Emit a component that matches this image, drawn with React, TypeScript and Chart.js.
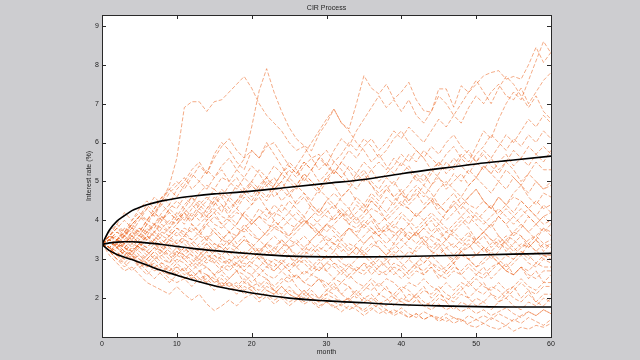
import React, { useEffect, useRef } from "react";
import { Chart, registerables } from "chart.js";

Chart.register(...registerables);

const chartTitle = "CIR Process";
const xAxisTitle = "month";
const yAxisTitle = "Interest rate (%)";
const xTicks = [0, 10, 20, 30, 40, 50, 60];
const yTicks = [2, 3, 4, 5, 6, 7, 8, 9];

// percentile curves (black)
const bandMonths = [0, 1, 2, 3, 4, 5, 6, 8, 10, 12, 15, 18, 20, 25, 30, 35, 40, 45, 50, 55, 60];
const upperBand = [3.38, 3.75, 3.98, 4.12, 4.25, 4.33, 4.4, 4.5, 4.57, 4.62, 4.68, 4.72, 4.75, 4.85, 4.95, 5.05, 5.2, 5.33, 5.45, 5.55, 5.65];
const medianLine = [3.38, 3.42, 3.44, 3.45, 3.45, 3.44, 3.42, 3.38, 3.33, 3.28, 3.22, 3.17, 3.14, 3.08, 3.06, 3.06, 3.07, 3.09, 3.11, 3.13, 3.15];
const lowerBand = [3.38, 3.22, 3.12, 3.05, 2.99, 2.92, 2.85, 2.71, 2.59, 2.47, 2.32, 2.2, 2.13, 2.0, 1.93, 1.88, 1.83, 1.8, 1.78, 1.77, 1.77];

// simulated paths, monthly values (month 0..60)
const p01 = [3.4,3.6,3.5,3.8,3.7,4.0,4.3,4.1,4.5,4.9,5.6, 6.9,7.05,7.05,6.8,7.05,7.1,7.3,7.5,7.7,7.4, 7.0,6.7,6.5,6.3,6.0,5.8,5.9,5.6,5.7,5.4, 5.2,5.5,5.3,5.0,5.2,4.9,4.7,4.9,4.6,4.8, 4.5,4.7,4.4,4.6,4.3,4.5,4.7,4.4,4.6,4.8, 4.5,4.3,4.6,4.4,4.2,4.5,4.3,4.1,4.4,4.2];
const p02 = [3.4,3.5,3.3,3.6,3.8,3.7,4.0,3.9,4.2,4.4,4.3, 4.6,4.4,4.7,4.9,4.8,5.1,5.0,5.3,5.58,6.4, 7.33,7.9,7.29,6.8,6.39,6.09,5.92,5.79,6.22,6.5, 6.86,6.5,6.35,7.0,7.72,7.4,7.25,7.5,7.12,7.3, 7.55,7.1,6.82,6.78,7.38,7.38,6.91,7.46,7.29,7.5, 7.72,7.8,7.85,7.63,7.7,7.63,8.0,8.45,8.06,8.32];
const p03 = [3.4,3.3,3.5,3.4,3.7,3.6,3.9,3.8,4.1,3.9,4.2, 4.0,4.3,4.5,4.3,4.6,4.4,4.2,4.5,4.7,4.5, 4.8,4.6,4.9,5.2,5.0,4.8,5.1,4.9,4.7,5.0, 5.3,5.1,4.9,5.2,5.5,5.3,5.0,5.2,5.4,5.7, 5.5,5.8,5.6,5.3,5.5,5.2,5.4,5.7,5.5,5.9, 6.3,6.1,6.6,7.0,7.3,7.1,7.6,8.1,8.6,8.3];
const p04 = [3.4,3.2,3.4,3.3,3.1,3.4,3.6,3.5,3.8,3.7,3.9, 4.2,4.0,4.3,4.1,4.4,4.6,4.3,4.5,4.8,4.6, 4.9,5.1,4.8,5.0,5.3,5.1,5.4,5.6,5.3,5.5, 5.2,5.5,5.8,5.6,5.9,6.1,5.8,6.0,6.3,6.1, 6.4,6.2,6.0,6.3,6.6,6.4,6.7,6.5,6.9,7.2, 7.0,7.3,7.5,7.2,7.1,7.4,7.0,7.3,7.6,7.8];
const p05 = [3.4,3.6,3.9,3.7,4.0,4.2,4.0,4.3,4.6,4.4,4.8, 5.0,5.3,5.5,5.2,5.7,6.0,5.8,5.5,5.3,5.8, 5.6,6.0,5.7,5.4,5.1,5.4,5.7,6.0,6.3,6.6, 6.86,6.5,6.3,6.0,5.8,5.5,5.7,5.4,5.2,5.5, 5.3,5.0,5.2,4.9,5.2,5.5,5.3,5.6,5.8,5.5, 5.3,5.6,5.9,6.2,6.0,6.3,6.6,6.4,6.7,6.5];
const p06 = [3.4,3.3,3.1,3.4,3.6,3.4,3.7,3.9,3.6,3.8,4.1, 3.9,4.2,4.0,4.3,4.5,4.2,4.6,4.9,4.7,5.0, 4.8,5.1,5.4,5.2,5.5,5.3,5.0,5.3,5.6,5.4, 5.8,6.1,5.9,6.3,6.6,6.9,7.2,6.9,7.1,6.8, 7.1,6.7,6.5,6.8,7.2,7.0,6.7,7.0,7.3,7.6, 7.3,7.0,7.4,7.7,7.5,7.2,6.9,7.2,6.8,6.6];
const p07 = [3.4,3.5,3.7,3.6,3.9,4.1,3.9,4.2,4.0,4.3,4.5, 4.3,4.6,4.4,4.2,4.5,4.8,4.6,4.4,4.7,4.9, 4.7,4.5,4.8,5.0,4.7,4.9,5.2,5.0,4.8,5.1, 4.9,4.6,4.8,5.1,5.3,5.0,4.8,5.1,4.9,5.2, 5.4,5.1,4.9,5.2,5.5,5.3,5.6,5.4,5.2,5.5, 5.7,5.4,5.2,5.5,5.3,5.0,5.2,5.5,5.3,5.3];
const p08 = [3.4,3.3,3.5,3.7,3.5,3.8,3.6,3.9,4.1,3.8,4.0, 4.2,3.9,3.7,4.0,4.2,4.4,4.1,3.9,4.2,4.4, 4.6,4.3,4.1,4.4,4.2,4.5,4.7,4.4,4.2,4.5, 4.3,4.6,4.8,4.5,4.3,4.6,4.4,4.2,4.5,4.7, 4.4,4.6,4.9,4.7,4.4,4.2,4.5,4.3,4.6,4.8, 4.5,4.3,4.6,4.4,4.7,4.9,4.6,4.4,4.7,4.6];
const p09 = [3.4,3.6,3.8,4.0,3.8,4.1,4.3,4.6,4.4,4.7,4.9, 5.1,4.8,5.0,5.3,5.1,5.4,5.6,5.3,5.1,5.4, 5.2,4.9,5.1,4.8,4.6,4.9,4.7,4.5,4.8,4.6, 4.4,4.1,4.3,4.0,4.2,4.5,4.3,4.0,3.8,4.1, 3.9,4.2,4.0,3.7,3.9,4.2,4.4,4.1,3.9,4.2, 4.0,3.8,4.1,3.9,3.6,3.8,4.1,3.9,3.7,3.9];
const p10 = [3.4,3.2,3.4,3.6,3.5,3.3,3.6,3.4,3.2,3.5,3.7, 3.5,3.3,3.1,3.4,3.2,3.5,3.7,3.4,3.6,3.3, 3.1,3.4,3.2,3.5,3.3,3.0,3.2,3.5,3.7,3.4, 3.2,3.5,3.3,3.1,3.4,3.6,3.3,3.1,3.4,3.2, 3.0,3.3,3.5,3.2,3.4,3.1,2.9,3.2,3.4,3.1, 3.3,3.0,3.2,3.5,3.3,3.1,3.4,3.2,3.0,3.2];
const p11 = [3.4,3.2,3.0,3.2,3.1,2.9,3.1,3.3,3.1,2.9,3.2, 3.0,2.8,3.0,3.2,2.9,2.7,2.9,3.1,2.8,3.0, 3.2,2.9,2.7,2.9,3.1,2.8,2.6,2.8,3.0,2.7, 2.9,2.7,2.5,2.7,2.9,2.6,2.8,3.0,2.7,2.5, 2.7,2.9,2.6,2.8,2.5,2.7,2.9,2.6,2.4,2.6, 2.8,2.5,2.7,2.9,2.6,2.8,2.5,2.7,2.4,2.6];
const p12 = [3.4,3.3,3.1,2.9,3.1,2.8,2.6,2.8,2.6,2.4,2.6, 2.8,2.5,2.7,2.4,2.6,2.3,2.5,2.7,2.4,2.6, 2.3,2.5,2.2,2.4,2.6,2.3,2.1,2.3,2.5,2.2, 2.4,2.1,2.3,2.0,2.2,2.4,2.1,2.3,2.0,2.2, 1.9,2.1,2.3,2.0,2.2,1.9,2.1,2.3,2.0,2.2, 2.4,2.1,1.9,2.1,2.3,2.0,2.2,1.9,2.1,2.1];
const p13 = [3.4,3.1,2.9,2.7,2.8,2.6,2.4,2.3,2.2,2.1,2.3, 2.1,1.95,2.1,1.85,1.68,1.8,1.95,1.8,2.0,2.1, 1.9,2.05,1.85,2.0,1.8,1.95,2.1,1.9,1.75,1.9, 1.8,1.65,1.8,1.7,1.55,1.7,1.85,1.7,1.6,1.75, 1.6,1.5,1.65,1.55,1.45,1.6,1.5,1.4,1.55,1.45, 1.35,1.5,1.4,1.3,1.45,1.35,1.5,1.4,1.3,1.45];
const p14 = [3.4,3.2,3.3,3.1,3.0,3.1,2.9,2.8,2.9,2.7,2.8, 2.6,2.7,2.5,2.6,2.4,2.5,2.3,2.4,2.2,2.3, 2.4,2.2,2.1,2.3,2.1,2.0,2.2,2.0,1.9,2.0, 1.9,1.8,1.95,1.8,1.7,1.85,1.75,1.6,1.7,1.6, 1.5,1.6,1.45,1.55,1.4,1.5,1.35,1.45,1.3,1.25, 1.35,1.25,1.2,1.3,1.15,1.25,1.2,1.3,1.25,1.35];
const p15 = [3.4,3.3,3.2,3.0,3.2,3.0,2.8,3.0,2.8,2.7,2.9, 2.7,2.5,2.7,2.6,2.4,2.6,2.4,2.3,2.5,2.3, 2.2,2.4,2.2,2.1,2.3,2.1,2.0,2.2,2.0,2.1, 2.3,2.1,1.95,2.1,1.9,2.0,1.85,1.95,2.1,1.9, 1.8,1.95,1.8,1.7,1.85,1.7,1.8,1.65,1.75,1.6, 1.7,1.55,1.65,1.75,1.6,1.5,1.65,1.55,1.7,1.6];
const p16 = [3.4,3.5,3.3,3.5,3.7,3.5,3.8,3.6,3.4,3.6,3.8, 3.6,3.9,3.7,3.5,3.8,3.6,3.4,3.6,3.9,3.7, 3.5,3.7,4.0,3.8,3.6,3.9,4.1,3.8,3.6,3.9, 3.7,3.5,3.8,3.6,3.9,4.1,3.8,3.6,3.4,3.7, 3.9,3.6,3.8,4.0,3.7,3.5,3.8,4.0,3.8,3.5, 3.7,3.9,3.6,3.4,3.7,3.9,3.7,3.5,3.8,3.7];
const p17 = [3.4,3.5,3.4,3.2,3.4,3.3,3.1,3.3,3.2,3.0,3.2, 3.1,2.9,3.1,3.3,3.1,2.9,3.0,2.8,3.0,3.2, 3.0,2.8,3.0,2.9,2.7,2.9,3.1,2.9,2.7,2.9, 3.1,2.9,2.8,3.0,3.2,3.0,2.8,2.9,3.1,2.9, 2.7,2.9,3.1,2.9,2.7,2.8,3.0,3.2,3.0,2.8, 2.9,3.1,2.9,2.7,2.9,3.1,2.9,2.8,3.0,2.9];
const p18 = [3.4,3.6,3.8,3.7,3.9,4.1,4.0,4.2,4.4,4.2,4.0, 4.2,4.4,4.2,4.0,4.2,3.9,4.1,4.3,4.1,3.9, 4.1,4.3,4.0,3.8,4.0,4.2,4.0,3.8,4.0,4.2, 4.4,4.2,4.0,4.2,4.4,4.1,3.9,4.1,4.3,4.5, 4.3,4.1,4.3,4.5,4.2,4.0,4.2,4.4,4.2,4.0, 4.2,4.4,4.1,3.9,4.1,4.3,4.1,3.9,4.1,4.2];
const p19 = [3.4,3.3,3.5,3.4,3.2,3.4,3.3,3.5,3.3,3.1,3.3, 3.2,3.4,3.2,3.0,3.2,3.4,3.2,3.0,3.2,3.1, 3.3,3.1,3.3,3.5,3.3,3.1,3.3,3.2,3.4,3.6, 3.4,3.2,3.4,3.3,3.1,3.3,3.5,3.3,3.1,3.3, 3.5,3.7,3.5,3.3,3.5,3.3,3.1,3.3,3.5,3.4, 3.2,3.4,3.6,3.4,3.2,3.4,3.3,3.5,3.3,3.4];
const p20 = [3.4,3.2,3.1,3.3,3.1,3.0,2.9,3.1,2.9,2.8,3.0, 2.9,2.7,2.9,2.8,2.6,2.8,2.7,2.9,2.7,2.6, 2.8,2.6,2.5,2.7,2.5,2.6,2.4,2.6,2.5,2.3, 2.5,2.4,2.6,2.4,2.3,2.5,2.3,2.5,2.4,2.2, 2.4,2.3,2.5,2.3,2.2,2.4,2.2,2.4,2.3,2.5, 2.3,2.2,2.4,2.2,2.3,2.5,2.3,2.2,2.4,2.4];
const p21 = [3.4,3.5,3.3,3.4,3.6,3.4,3.3,3.5,3.7,3.6,3.4, 3.6,3.8,3.6,3.9,4.1,3.9,3.7,3.9,4.2,4.0, 4.3,4.1,4.4,4.2,4.5,4.3,4.1,4.4,4.2,4.5, 4.7,4.5,4.3,4.6,4.4,4.7,4.5,4.8,4.6,4.4, 4.7,4.9,4.7,4.5,4.8,5.0,4.8,4.6,4.9,5.1, 4.9,4.7,5.0,4.8,5.1,4.9,4.7,5.0,4.8,4.9];
const p22 = [3.4,3.6,3.5,3.7,3.9,3.7,4.0,4.2,4.0,4.3,4.1, 4.4,4.6,4.3,4.5,4.8,4.6,4.9,5.1,4.8,5.0, 5.3,5.1,4.9,5.2,5.4,5.2,5.5,5.3,5.6,5.8, 5.5,5.7,6.0,5.8,6.1,5.9,5.6,5.8,6.1,6.3, 6.0,5.8,5.6,5.9,5.7,6.0,6.2,5.9,5.7,5.5, 5.8,5.6,5.3,5.5,5.8,5.6,5.4,5.7,5.9,5.7];
const p23 = [3.4,3.3,3.1,3.3,3.2,3.4,3.2,3.0,3.2,3.1,2.9, 3.1,3.0,2.8,3.0,2.9,3.1,2.9,2.7,2.9,2.8, 2.6,2.8,2.7,2.9,2.7,2.5,2.7,2.6,2.8,2.7, 2.5,2.7,2.9,2.7,2.6,2.8,3.0,2.8,2.6,2.8, 3.0,2.8,2.9,3.1,2.9,2.7,2.9,3.1,3.0,2.8, 3.0,3.2,3.0,2.8,3.0,3.2,3.1,2.9,3.1,3.0];
const p24 = [3.4,3.2,3.3,3.1,3.3,3.2,3.0,3.2,3.4,3.2,3.1, 3.3,3.1,3.0,3.2,3.4,3.3,3.1,3.3,3.5,3.3, 3.2,3.4,3.6,3.4,3.3,3.5,3.3,3.5,3.7,3.5, 3.4,3.6,3.8,3.6,3.4,3.6,3.8,3.7,3.9,3.7, 3.5,3.7,3.9,4.1,3.9,3.7,3.9,4.1,4.3,4.1, 3.9,4.1,4.3,4.1,3.9,4.1,4.3,4.1,3.9,4.0];
const p25 = [3.4,3.2,3.0,2.9,2.7,2.9,2.7,2.5,2.7,2.5,2.4, 2.5,2.3,2.5,2.4,2.2,2.4,2.3,2.1,2.3,2.2, 2.0,2.2,2.1,2.3,2.1,2.0,2.2,2.0,1.9,2.1, 2.0,1.9,2.0,2.2,2.0,1.9,2.1,2.0,1.8,2.0, 1.9,2.1,1.9,1.8,2.0,1.9,1.7,1.9,1.8,2.0, 1.9,1.7,1.9,2.0,1.8,1.7,1.9,1.8,2.0,1.9];
const p26 = [3.4,3.6,3.4,3.3,3.5,3.3,3.5,3.7,3.5,3.3,3.5, 3.4,3.2,3.4,3.6,3.4,3.3,3.5,3.3,3.1,3.3, 3.5,3.3,3.1,3.3,3.5,3.4,3.6,3.4,3.2,3.4, 3.6,3.4,3.2,3.4,3.6,3.8,3.6,3.4,3.6,3.8, 3.6,3.4,3.6,3.5,3.3,3.5,3.7,3.5,3.3,3.5, 3.7,3.5,3.3,3.5,3.7,3.6,3.4,3.6,3.8,3.6];
const p27 = [3.4,3.5,3.3,3.1,3.3,3.1,3.0,3.2,3.0,2.9,3.1, 3.3,3.1,2.9,3.1,3.0,2.8,3.0,2.9,2.7,2.9, 3.1,2.9,2.8,3.0,2.8,3.0,2.9,2.7,2.9,3.1, 2.9,2.8,2.6,2.8,2.7,2.9,2.7,2.6,2.8,2.7, 2.5,2.7,2.6,2.8,2.6,2.5,2.7,2.6,2.8,2.6, 2.5,2.7,2.9,2.7,2.6,2.8,2.6,2.5,2.7,2.7];
const p28 = [3.4,3.3,3.5,3.3,3.2,3.4,3.6,3.4,3.3,3.5,3.4, 3.6,3.5,3.3,3.5,3.7,3.5,3.4,3.6,3.8,3.6, 3.5,3.7,3.9,3.7,3.6,3.8,4.0,3.8,3.7,3.9, 4.1,4.3,4.1,4.4,4.2,4.5,4.3,4.6,4.4,4.7, 4.5,4.8,4.6,4.9,5.1,4.9,5.2,5.0,5.3,5.1, 5.4,5.2,5.0,5.3,5.1,4.9,5.2,5.0,4.8,5.0];
const p29 = [3.4,3.7,3.9,4.2,4.0,4.3,4.5,4.3,4.6,4.8,4.6, 4.9,5.2,5.0,4.8,5.1,5.3,5.0,4.8,5.1,4.9, 4.7,5.0,4.8,4.5,4.7,4.4,4.6,4.3,4.1,4.3, 4.0,4.2,3.9,4.1,3.8,4.0,3.7,3.9,3.6,3.8, 3.5,3.7,3.4,3.6,3.8,3.5,3.3,3.5,3.7,3.4, 3.6,3.3,3.5,3.2,3.4,3.6,3.3,3.5,3.2,3.4];
const p30 = [3.4,3.2,3.0,2.8,3.0,2.8,2.9,2.7,2.8,2.6,2.8, 2.7,2.9,2.7,2.8,2.6,2.7,2.5,2.7,2.6,2.4, 2.6,2.5,2.3,2.5,2.4,2.6,2.4,2.3,2.5,2.4, 2.2,2.4,2.3,2.1,2.3,2.2,2.4,2.2,2.1,2.3, 2.2,2.0,2.2,2.1,2.3,2.1,2.0,2.2,2.4,2.2, 2.1,2.3,2.2,2.0,2.2,2.4,2.2,2.1,2.3,2.3];
const p31 = [3.4,3.3,3.1,3.2,3.0,2.9,3.0,2.8,2.7,2.8,2.6, 2.5,2.6,2.4,2.5,2.3,2.4,2.2,2.3,2.1,2.2, 2.0,2.1,1.95,2.05,1.9,2.0,1.85,1.95,1.8,1.9, 1.75,1.85,1.7,1.8,1.65,1.75,1.6,1.7,1.55,1.65, 1.5,1.6,1.45,1.55,1.5,1.4,1.5,1.45,1.35,1.45, 1.55,1.45,1.6,1.5,1.4,1.55,1.65,1.55,1.7,1.6];
const p32 = [3.4,3.5,3.7,3.5,3.3,3.5,3.7,3.6,3.4,3.6,3.8, 3.7,3.5,3.7,3.9,3.7,3.5,3.7,3.6,3.8,4.0, 3.8,3.6,3.8,3.7,3.5,3.7,3.9,4.1,3.9,3.7, 3.9,4.1,3.9,3.8,4.0,3.8,3.6,3.8,4.0,4.2, 4.0,3.8,4.0,4.2,4.0,3.8,3.7,3.9,4.1,3.9, 3.7,3.9,4.1,4.3,4.1,3.9,3.7,3.9,4.1,3.9];
const p33 = [3.4,3.6,3.8,3.6,3.9,4.1,4.4,4.2,4.5,4.8,5.0, 4.8,5.1,5.4,5.2,5.6,5.9,6.1,5.8,5.6,5.8, 5.6,5.9,6.0,5.7,5.4,5.2,5.5,5.3,5.0,5.2, 5.5,5.3,5.0,4.8,5.1,4.9,4.6,4.8,5.0,4.7, 4.9,5.2,5.0,5.3,5.1,4.8,5.0,5.2,4.9,5.1, 5.4,5.2,5.5,5.7,5.4,5.6,5.9,5.7,5.5,5.8];
const p34 = [3.4,3.2,3.4,3.3,3.5,3.3,3.2,3.4,3.2,3.4,3.3, 3.1,3.3,3.2,3.4,3.2,3.1,3.3,3.2,3.0,3.2, 3.0,3.2,3.1,3.3,3.1,2.9,3.1,3.3,3.1,3.0, 3.2,3.0,3.1,3.3,3.1,2.9,3.1,3.0,3.2,3.0, 3.2,3.1,2.9,3.1,3.3,3.1,3.0,3.2,3.0,3.1, 3.3,3.1,2.9,3.1,3.0,3.2,3.0,3.2,3.1,3.1];
const p35 = [3.4,3.3,3.1,3.0,3.1,2.9,2.8,2.9,2.7,2.6,2.7, 2.5,2.6,2.4,2.6,2.5,2.3,2.4,2.2,2.4,2.3, 2.1,2.3,2.2,2.0,2.2,2.1,1.9,2.1,2.0,2.2, 2.1,1.9,2.0,1.8,2.0,2.1,1.9,1.8,2.0,1.9, 2.1,2.0,1.8,1.9,2.1,2.0,1.9,2.1,2.0,1.8, 1.9,2.1,2.0,2.2,2.0,1.9,2.1,1.9,1.8,2.0];
const p36 = [3.4,3.3,3.5,3.6,3.4,3.6,3.5,3.7,3.9,3.7,3.6, 3.8,3.7,3.9,4.1,3.9,3.8,4.0,3.8,3.7,3.9, 4.1,3.9,3.8,4.0,4.2,4.0,3.9,4.1,4.3,4.1, 4.0,4.2,4.1,3.9,4.1,4.3,4.2,4.0,4.2,4.4, 4.3,4.1,4.3,4.5,4.4,4.2,4.4,4.6,4.4,4.3, 4.5,4.3,4.2,4.4,4.6,4.5,4.3,4.5,4.3,4.4];
const p37 = [3.4,3.5,3.4,3.6,3.8,3.6,3.9,3.7,4.0,4.2,4.0, 4.3,4.1,4.4,4.6,4.4,4.7,4.5,4.3,4.6,4.4, 4.7,4.9,4.6,4.8,5.1,4.9,5.2,5.0,4.8,5.1, 5.3,5.1,5.4,5.2,5.0,5.3,5.5,5.3,5.6,5.4, 5.7,5.5,5.8,5.6,5.4,5.7,5.9,5.6,5.4,5.7, 5.9,6.2,6.0,5.8,6.1,5.9,6.2,6.0,6.3,6.1];
const p38 = [3.4,3.5,3.6,3.4,3.5,3.7,3.5,3.4,3.6,3.5,3.3, 3.5,3.4,3.6,3.5,3.3,3.2,3.4,3.3,3.5,3.4, 3.2,3.4,3.3,3.1,3.3,3.4,3.2,3.1,3.3,3.2, 3.4,3.3,3.1,3.3,3.2,3.4,3.3,3.1,3.3,3.5, 3.3,3.2,3.4,3.2,3.1,3.3,3.4,3.2,3.3,3.5, 3.3,3.2,3.4,3.3,3.1,3.3,3.4,3.2,3.4,3.3];
const p39 = [3.4,3.3,3.4,3.2,3.1,3.3,3.2,3.0,3.1,3.3,3.1, 3.0,3.2,3.0,2.9,3.1,3.0,2.8,2.9,3.1,2.9, 2.8,3.0,2.9,2.7,2.9,2.8,3.0,2.8,2.7,2.9, 2.8,2.6,2.8,2.7,2.9,2.8,2.6,2.7,2.9,2.8, 2.6,2.8,2.7,2.9,2.8,2.6,2.8,2.7,2.9,2.7, 2.6,2.8,2.9,2.7,2.6,2.8,2.7,2.9,2.8,2.8];
const p40 = [3.4,3.6,3.5,3.7,3.6,3.8,3.7,3.9,3.8,4.0,3.9, 4.1,4.0,4.2,4.1,4.3,4.1,4.0,4.2,4.1,3.9, 4.1,4.0,4.2,4.1,3.9,3.8,4.0,3.9,3.7,3.9, 3.8,3.6,3.8,3.7,3.9,3.7,3.6,3.8,3.7,3.5, 3.7,3.6,3.8,3.6,3.5,3.7,3.6,3.4,3.6,3.5, 3.7,3.5,3.4,3.6,3.5,3.3,3.5,3.6,3.4,3.5];

const paths = [p01,p02,p03,p04,p05,p06,p07,p08,p09,p10,p11,p12,p13,p14,p15,p16,p17,p18,p19,p20,
  p21,p22,p23,p24,p25,p26,p27,p28,p29,p30,p31,p32,p33,p34,p35,p36,p37,p38,p39,p40];

const FONT = '"Liberation Sans", Arial, Helvetica, sans-serif';

const matlabAxes = {
  id: "matlabAxes",
  beforeDatasetsDraw(chart: any) {
    const { ctx, chartArea: a } = chart;
    ctx.save();
    ctx.fillStyle = "#ffffff";
    ctx.fillRect(a.left, a.top, a.right - a.left, a.bottom - a.top);
    ctx.restore();
  },
  afterDatasetsDraw(chart: any) {
    const { ctx, chartArea: a, scales } = chart;
    const xs = scales.x;
    const ys = scales.y;
    ctx.save();
    ctx.strokeStyle = "#2a2a2a";
    ctx.lineWidth = 1;
    ctx.strokeRect(Math.round(a.left) + 0.5, Math.round(a.top) + 0.5, Math.round(a.right - a.left), Math.round(a.bottom - a.top));
    const tl = 4;
    ctx.beginPath();
    xTicks.forEach((v) => {
      const px = Math.round(xs.getPixelForValue(v)) + 0.5;
      ctx.moveTo(px, a.bottom);
      ctx.lineTo(px, a.bottom - tl);
      ctx.moveTo(px, a.top);
      ctx.lineTo(px, a.top + tl);
    });
    yTicks.forEach((v) => {
      const py = Math.round(ys.getPixelForValue(v)) + 0.5;
      ctx.moveTo(a.left, py);
      ctx.lineTo(a.left + tl, py);
      ctx.moveTo(a.right, py);
      ctx.lineTo(a.right - tl, py);
    });
    ctx.stroke();
    ctx.fillStyle = "#1e1e1e";
    ctx.font = `7px ${FONT}`;
    ctx.textAlign = "center";
    ctx.textBaseline = "middle";
    const cx = (a.left + a.right) / 2;
    ctx.fillText(chartTitle, cx, 8);
    ctx.fillText(xAxisTitle, cx, 352);
    ctx.translate(89, (a.top + a.bottom) / 2);
    ctx.rotate(-Math.PI / 2);
    ctx.fillText(yAxisTitle, 0, 0);
    ctx.restore();
  },
};

export default function App() {
  const ref = useRef<HTMLCanvasElement | null>(null);
  useEffect(() => {
    document.body.style.margin = "0";
    const canvas = ref.current;
    if (!canvas) return;
    const orange = paths.map((p, i) => ({
      label: `path ${i + 1}`,
      data: p.map((v, m) => ({ x: m, y: v })),
      borderColor: "rgba(236,108,44,0.72)",
      borderWidth: 0.8,
      borderDash: [4, 2],
      pointRadius: 0,
      fill: false,
      tension: 0,
      order: 2,
    }));
    const band = (vals: number[], label: string) => ({
      label,
      data: vals.map((v, i) => ({ x: bandMonths[i], y: v })),
      borderColor: "#000000",
      borderWidth: 1.6,
      pointRadius: 0,
      fill: false,
      cubicInterpolationMode: "monotone" as const,
      order: 1,
    });
    const chart = new Chart(canvas, {
      type: "line",
      data: {
        datasets: [band(upperBand, "upper"), band(medianLine, "median"), band(lowerBand, "lower"), ...orange] as any,
      },
      options: {
        animation: false,
        responsive: false,
        devicePixelRatio: 1,
        layout: { padding: { left: 82, right: 89, top: 15, bottom: 0 } },
        plugins: { legend: { display: false }, tooltip: { enabled: false }, title: { display: false } },
        scales: {
          x: {
            type: "linear",
            min: 0,
            max: 60,
            grid: { display: false, drawTicks: false },
            border: { display: false },
            afterBuildTicks: (s: any) => {
              s.ticks = xTicks.map((v) => ({ value: v }));
            },
            afterFit: (s: any) => {
              s.height = 23;
            },
            ticks: { font: { size: 7, family: FONT }, color: "#1e1e1e", padding: 3, maxRotation: 0, autoSkip: false },
          },
          y: {
            type: "linear",
            min: 1,
            max: 9.28,
            grid: { display: false, drawTicks: false },
            border: { display: false },
            afterBuildTicks: (s: any) => {
              s.ticks = yTicks.map((v) => ({ value: v }));
            },
            afterFit: (s: any) => {
              s.width = 20;
            },
            ticks: { font: { size: 7, family: FONT }, color: "#1e1e1e", padding: 3, autoSkip: false },
          },
        },
      } as any,
      plugins: [matlabAxes],
    });
    return () => chart.destroy();
  }, []);
  return (
    <div style={{ position: "fixed", left: 0, top: 0, width: 640, height: 360, background: "#cdcdd0" }}>
      <canvas ref={ref} width={640} height={360} style={{ display: "block", width: 640, height: 360 }} />
    </div>
  );
}
